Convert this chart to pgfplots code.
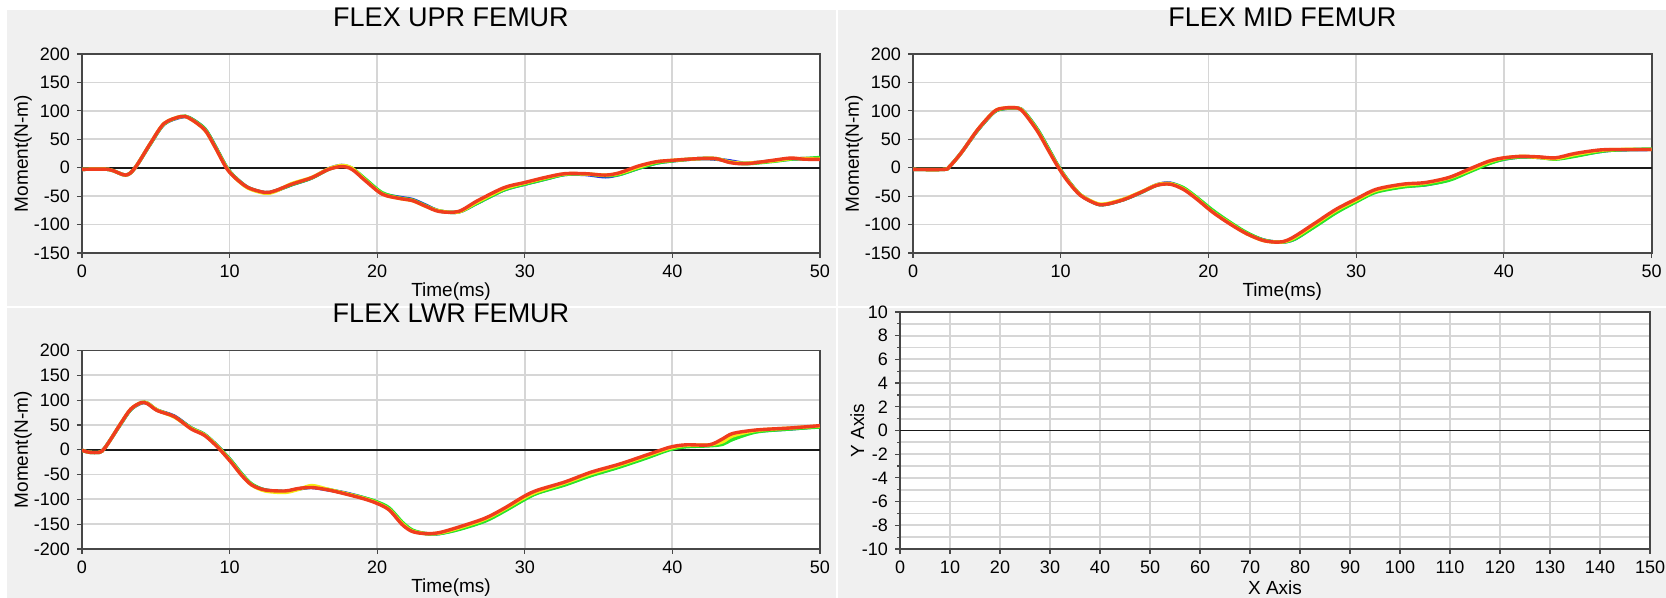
\documentclass[border=0pt]{standalone}
\usepackage{fontspec}
\setmainfont{Liberation Sans}
\usepackage{pgfplots}
\pgfplotsset{compat=1.18}
\usepackage{pgfplotstable}
\definecolor{bg}{HTML}{F0F0F0}
\definecolor{cb}{RGB}{30,40,230}
\definecolor{cg}{RGB}{40,230,40}
\definecolor{cy}{RGB}{245,235,20}
\definecolor{cr}{RGB}{240,60,30}

\pgfplotstableread{
t r y g b
0 -3 -3 -3 -3
1.8 -3 -3 -3 -3
2.95 -13 -13 -13 -13
3.6 0 0 0 0
4.66 44 44 43 43
5.57 78 78 77 77
6.7 90 90 90 89
7.27 87 87 88 88
8.3 67 67 69 69
8.98 38 38 40 40
9.77 0 1 2 2
10.34 -17 -17 -16 -16
11.25 -35 -36 -35 -35
12.4 -43.6 -45 -44 -44
13.07 -40.7 -42 -41 -41
14.2 -29 -28 -30 -30
15.57 -17.4 -17 -18 -18
16.7 -3 -2 -3 -2
17.6 2 4 3 4
18.3 -3 -1 -1 -2
19.2 -23 -22 -20 -21
20.34 -46.5 -46 -44 -45
21.5 -54 -54 -53 -52
22.4 -58 -58 -57 -56
23.3 -68 -68 -67 -66
24.2 -77 -76 -76 -76
25.5 -77 -78 -78 -78
26.8 -58 -60 -62 -62
28.6 -35 -37 -39 -39
30 -26 -27 -29 -29
31.4 -17 -18 -20 -20
32.7 -10.5 -11 -12 -12
34.1 -10.5 -11 -11 -12
35.45 -13 -13 -14 -16
36.4 -9 -10 -12 -12
37.7 3 1 -1 -1
38.9 10.5 10 8 8
40 13 13 12 12
41.8 16 16 16 16
42.95 16 16 16 15
43.9 9 10 10 12
45 7 8 7 8
46.8 13 12 11 12
48 17 16 15 15
48.9 15 16 16 16
50 14.5 15 18 16
}\dataA

\pgfplotstableread{
t r y g b
0 -3 -3 -3 -3
2.1 -3 -3 -3 -3
2.47 2 2 2 2
3.26 26 26 26 26
4.38 67 67 66 66
5.5 99 99 98 98
6.18 105 105 104 104
7.08 105 105 105 105
7.53 96 97 98 98
8.43 64 65 67 67
9.2 29 30 32 32
9.78 3 4 5 5
10.45 -23 -22 -21 -21
11.35 -49 -48 -48 -48
12.47 -64 -63 -64 -64
13.15 -64 -63 -64 -64
14.27 -56 -55 -56 -56
15.4 -43.6 -43 -44 -44
16.5 -31 -30 -31 -30
17.4 -29 -28 -28 -27
18.3 -38 -37 -35 -36
19.2 -55 -54 -52 -53
20.3 -78.5 -78 -75 -76
21.46 -99 -98 -96 -97
22.58 -116 -116 -114 -115
23.7 -128 -128 -127 -127
24.7 -131 -131 -131 -131
25.3 -128 -129 -130 -130
25.95 -119 -121 -124 -124
27.3 -96 -98 -102 -101
28.65 -73 -75 -79 -78
30 -55 -57 -60 -59
31.35 -38 -40 -43 -42
33.15 -29 -31 -34 -33
34.7 -26 -27 -30 -30
36.3 -17 -18 -22 -21
37.6 -3 -5 -8 -7
38.99 11.6 10 7 8
40 17.4 17 15 15
41.2 20 20 19 19
42.4 19 18 18 18
43.5 17.4 16 15 16
44.8 25 23 20 21
46.4 31 30 28 28
47.5 32 32 31 31
50 32 32 33 32
}\dataB

\pgfplotstableread{
t r y g b
0 -1 -1 -1 -1
0.5 -5 -5 -5 -5
1.2 -5 -5 -5 -5
1.5 2 2 2 2
1.9 19 19 19 19
2.6 52 52 51 51
3.3 82 82 81 81
4.0 95 95 95 94
4.43 93 94 94 94
5.1 79 80 80 80
6.25 67 66 67 68
7.4 42 43 44 44
8.3 29 30 31 31
9.2 5 6 7 7
10.1 -25 -24 -22 -22
10.8 -51 -50 -48 -48
11.5 -71 -71 -69 -70
12.4 -81 -83 -81 -81
13.75 -83 -86 -84 -84
14.66 -78 -80 -79 -79
15.57 -76 -72 -75 -76
16.7 -81 -80 -80 -81
17.84 -89 -88 -88 -87
19.0 -98 -97 -96 -96
19.9 -107 -106 -104 -105
20.8 -121 -120 -117 -118
21.7 -151 -149 -146 -147
22.4 -165 -164 -162 -163
23.3 -169 -169 -169 -169
24.2 -167 -168 -169 -169
25.5 -156 -158 -161 -160
27.3 -138 -140 -144 -143
28.6 -118 -120 -124 -123
30.0 -93 -96 -100 -99
30.9 -81 -84 -87 -86
32.7 -65 -67 -71 -70
34.5 -45 -48 -52 -51
36.4 -29 -31 -35 -34
38.2 -11 -13 -17 -16
39.8 5 3 0 1
40.9 10 9 6 7
42.5 10 10 8 9
43.4 22 16 11 13
44.1 33 28 21 24
45.7 40 39 36 37
48.0 44 44 42 42
50.0 48.7 48 46 47
}\dataC

\pgfplotsset{
  base/.style={
    scale only axis,
    grid=major,
    xtick pos=left, ytick pos=left,
    major grid style={draw=black!16, line width=0.9pt},
    axis line style={draw=black!72, line width=0.9pt},
    tick align=outside,
    major tick length=2.5pt,
    minor tick length=1.5pt,
    tick style={draw=black!72, line width=0.6pt},
    /pgf/number format/assume math mode=true,
    ticklabel style={font=\fontsize{9}{10}\selectfont},
    label style={font=\fontsize{9.5}{11}\selectfont},
    title style={font=\fontsize{13.5}{15}\selectfont, at={(axis description cs:0.5,1)}, anchor=base, yshift=7.8pt},
    axis background/.style={fill=white},
    extra y ticks={0},
    extra y tick labels={},
    extra y tick style={grid=major, major grid style={draw=black!90, line width=0.9pt}, major tick length=0pt},
  },
  femur/.style={
    base,
    width=369pt, height=99.5pt,
    xmin=0, xmax=50,
    xtick={0,10,...,50},
    xlabel={Time(ms)},
    ylabel={Moment(N-m)},
    xlabel style={at={(axis description cs:0.5,-0.196)}, anchor=center},
    ylabel style={at={(axis description cs:-0.08,0.5)}, anchor=center, rotate=0},
  },
}

\newcommand{\curves}[1]{%
  \addplot[cb, line width=1.7pt, smooth] table[x=t, y=b] {#1};
  \addplot[cg, line width=1.7pt, smooth] table[x=t, y=g] {#1};
  \addplot[cy, line width=1.7pt, smooth] table[x=t, y=y] {#1};
  \addplot[cr, line width=1.7pt, smooth] table[x=t, y=r] {#1};
}

\begin{document}
\begin{tikzpicture}
\path[use as bounding box] (0,0) rectangle (833pt,299pt);
\clip (0,0) rectangle (833pt,299pt);
\fill[white] (0,0) rectangle (833pt,299pt);
\fill[bg] (3.5pt,146pt) rectangle (418pt,294pt);
\fill[bg] (419pt,146pt) rectangle (833pt,294pt);
\fill[bg] (3.5pt,0pt) rectangle (418pt,145pt);
\fill[bg] (419pt,0pt) rectangle (833pt,145pt);

\begin{axis}[femur, at={(41pt,172.5pt)}, anchor=south west,
  ymin=-150, ymax=200, ytick={-150,-100,...,200},
  title={FLEX UPR FEMUR}]
\curves{\dataA}
\end{axis}

\begin{axis}[femur, at={(456.5pt,172.5pt)}, anchor=south west, width=369.3pt,
  ymin=-150, ymax=200, ytick={-150,-100,...,200},
  title={FLEX MID FEMUR}]
\curves{\dataB}
\end{axis}

\begin{axis}[femur, at={(41pt,24.5pt)}, anchor=south west, height=99.2pt,
  ymin=-200, ymax=200, ytick={-200,-150,...,200},
  title={FLEX LWR FEMUR}]
\curves{\dataC}
\end{axis}

\begin{axis}[base, at={(450pt,24.5pt)}, anchor=south west,
  width=375pt, height=118.5pt,
  xmin=0, xmax=150, ymin=-10, ymax=10,
  xtick={0,10,...,150}, ytick={-10,-8,...,10},
  minor y tick num=1, grid=both,
  minor grid style={draw=black!16, line width=0.9pt},
  xlabel={X Axis}, ylabel={Y Axis},
  xlabel style={at={(axis description cs:0.5,-0.165)}, anchor=center},
  ylabel style={at={(axis description cs:-0.057,0.5)}, anchor=center}]
\end{axis}
\end{tikzpicture}
\end{document}
